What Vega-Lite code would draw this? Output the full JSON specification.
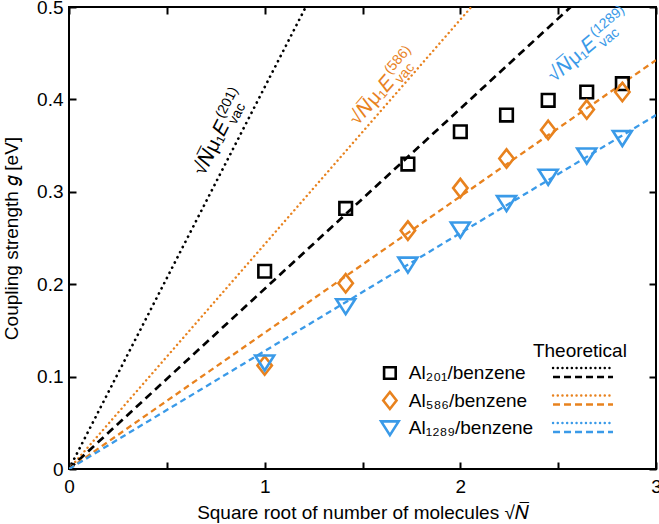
{
"$schema":"https://vega.github.io/schema/vega-lite/v6.json",
"width":587,"height":462,
"autosize":{"type":"none"},
"padding":{"left":69,"top":7,"right":3,"bottom":55},
"background":"white",
"config":{
 "font":"Liberation Sans",
 "view":{"stroke":"black","strokeWidth":2},
 "legend":{"disable":true},
 "axis":{"domain":false,"grid":false,"ticks":true,"tickColor":"#000000","tickOpacity":1,"tickWidth":2,"tickSize":7,"offset":-7,"zindex":1,"labelFont":"Liberation Sans","labelFontSize":19,"labelColor":"black","titleFont":"Liberation Sans","titleFontSize":19,"titleFontWeight":"normal","titleColor":"black","labelFlush":false,"labelOverlap":false}
},
"datasets":{
 "pts":[
  {"series":"Al201","x":1,"g":0.214},{"series":"Al201","x":1.414,"g":0.282},{"series":"Al201","x":1.732,"g":0.330},{"series":"Al201","x":2,"g":0.365},{"series":"Al201","x":2.236,"g":0.383},{"series":"Al201","x":2.449,"g":0.399},{"series":"Al201","x":2.646,"g":0.408},{"series":"Al201","x":2.828,"g":0.417},
  {"series":"Al586","x":1,"g":0.112},{"series":"Al586","x":1.414,"g":0.201},{"series":"Al586","x":1.732,"g":0.258},{"series":"Al586","x":2,"g":0.304},{"series":"Al586","x":2.236,"g":0.336},{"series":"Al586","x":2.449,"g":0.367},{"series":"Al586","x":2.646,"g":0.389},{"series":"Al586","x":2.828,"g":0.408},
  {"series":"Al1289","x":1,"g":0.115},{"series":"Al1289","x":1.414,"g":0.176},{"series":"Al1289","x":1.732,"g":0.221},{"series":"Al1289","x":2,"g":0.259},{"series":"Al1289","x":2.236,"g":0.2875},{"series":"Al1289","x":2.449,"g":0.316},{"series":"Al1289","x":2.646,"g":0.339},{"series":"Al1289","x":2.828,"g":0.358}
 ],
 "theory":[
  {"line":"bdot","x":0,"g":0},{"line":"bdot","x":1.21,"g":0.5},
  {"line":"odot","x":0,"g":0},{"line":"odot","x":2.056,"g":0.5},
  {"line":"bdash","x":0,"g":0},{"line":"bdash","x":2.564,"g":0.5},
  {"line":"odash","x":0,"g":0},{"line":"odash","x":3,"g":0.4425},
  {"line":"ldash","x":0,"g":0},{"line":"ldash","x":3,"g":0.383}
 ]
},
"resolve":{"axis":{"x":"independent","y":"independent"}},
"layer":[
 {
  "data":{"name":"theory"},
  "transform":[{"filter":"datum.line === 'bdot'"}],
  "mark":{"type":"line","strokeCap":"round","clip":true,"color":"#000000","strokeWidth":2.7,"strokeDash":[0.1,5.7]},
  "encoding":{
   "x":{"field":"x","type":"quantitative","scale":{"domain":[0,3],"nice":false,"zero":false},
        "axis":{"orient":"bottom","values":[0,0.5,1,1.5,2,2.5,3],"labelExpr":"datum.value % 1 === 0 ? format(datum.value,'d') : ''","labelPadding":8,"title":"Square root of number of molecules √𝑁̅","titlePadding":7}},
   "y":{"field":"g","type":"quantitative","scale":{"domain":[0,0.5],"nice":false,"zero":false},
        "axis":{"orient":"left","values":[0,0.1,0.2,0.3,0.4,0.5],"labelExpr":"datum.value === 0 ? '0' : format(datum.value,'.1f')","labelPadding":6,"title":"Coupling strength 𝑔 [eV]","titlePadding":15}}
  }
 },
 {
  "data":{"name":"theory"},
  "transform":[{"filter":"datum.line === 'odot'"}],
  "mark":{"type":"line","strokeCap":"round","clip":true,"color":"#e8821e","strokeWidth":2.4,"strokeDash":[0.1,4.6]},
  "encoding":{
   "x":{"field":"x","type":"quantitative","axis":{"orient":"top","values":[0,0.5,1,1.5,2,2.5,3],"labels":false,"title":null}},
   "y":{"field":"g","type":"quantitative","axis":{"orient":"right","values":[0,0.1,0.2,0.3,0.4,0.5],"labels":false,"title":null}}
  }
 },
 {
  "data":{"name":"theory"},
  "transform":[{"filter":"datum.line === 'bdash'"}],
  "mark":{"type":"line","strokeCap":"butt","clip":true,"color":"#000000","strokeWidth":2.7,"strokeDash":[8,5]},
  "encoding":{"x":{"field":"x","type":"quantitative","axis":null},"y":{"field":"g","type":"quantitative","axis":null}}
 },
 {
  "data":{"name":"theory"},
  "transform":[{"filter":"datum.line === 'odash'"}],
  "mark":{"type":"line","strokeCap":"butt","clip":true,"color":"#e8821e","strokeWidth":2.3,"strokeDash":[6,4]},
  "encoding":{"x":{"field":"x","type":"quantitative","axis":null},"y":{"field":"g","type":"quantitative","axis":null}}
 },
 {
  "data":{"name":"theory"},
  "transform":[{"filter":"datum.line === 'ldash'"}],
  "mark":{"type":"line","strokeCap":"butt","clip":true,"color":"#3a9ae8","strokeWidth":2.3,"strokeDash":[6,4]},
  "encoding":{"x":{"field":"x","type":"quantitative","axis":null},"y":{"field":"g","type":"quantitative","axis":null}}
 },
 {
  "data":{"name":"pts"},
  "mark":{"type":"point","filled":false,"strokeWidth":2.6,"size":400,"opacity":1},
  "encoding":{
   "x":{"field":"x","type":"quantitative","axis":null},
   "y":{"field":"g","type":"quantitative","axis":null},
   "color":{"field":"series","type":"nominal","scale":{"domain":["Al201","Al586","Al1289"],"range":["#000000","#e8821e","#3a9ae8"]}},
   "shape":{"field":"series","type":"nominal","scale":{"domain":["Al201","Al586","Al1289"],"range":["M-0.63,-0.63H0.63V0.63H-0.63Z","M0,-0.92L0.72,0L0,0.92L-0.72,0Z","M-0.95,-0.72H0.95L0,0.78Z"]}}
  }
 },
 {"data":{"values":[{"series":"Al201"}]},"mark":{"type":"point","filled":false,"strokeWidth":2.6,"size":340,"opacity":1},
  "encoding":{"x":{"datum":1.64,"type":"quantitative","axis":null},"y":{"datum":0.1039,"type":"quantitative","axis":null},"color":{"field":"series","type":"nominal"},"shape":{"field":"series","type":"nominal"}}},
 {"data":{"values":[{"series":"Al586"}]},"mark":{"type":"point","filled":false,"strokeWidth":2.6,"size":340,"opacity":1},
  "encoding":{"x":{"datum":1.64,"type":"quantitative","axis":null},"y":{"datum":0.0741,"type":"quantitative","axis":null},"color":{"field":"series","type":"nominal"},"shape":{"field":"series","type":"nominal"}}},
 {"data":{"values":[{"series":"Al1289"}]},"mark":{"type":"point","filled":false,"strokeWidth":2.6,"size":340,"opacity":1},
  "encoding":{"x":{"datum":1.64,"type":"quantitative","axis":null},"y":{"datum":0.0444,"type":"quantitative","axis":null},"color":{"field":"series","type":"nominal"},"shape":{"field":"series","type":"nominal"}}},
 {"data":{"values":[{}]},"mark":{"type":"text","align":"left","baseline":"middle","fontSize":19,"color":"black"},
  "encoding":{"x":{"datum":1.737,"type":"quantitative","axis":null},"y":{"datum":0.1039,"type":"quantitative","axis":null},"text":{"value":"Al₂₀₁/benzene"}}},
 {"data":{"values":[{}]},"mark":{"type":"text","align":"left","baseline":"middle","fontSize":19,"color":"black"},
  "encoding":{"x":{"datum":1.737,"type":"quantitative","axis":null},"y":{"datum":0.0741,"type":"quantitative","axis":null},"text":{"value":"Al₅₈₆/benzene"}}},
 {"data":{"values":[{}]},"mark":{"type":"text","align":"left","baseline":"middle","fontSize":19,"color":"black"},
  "encoding":{"x":{"datum":1.737,"type":"quantitative","axis":null},"y":{"datum":0.0444,"type":"quantitative","axis":null},"text":{"value":"Al₁₂₈₉/benzene"}}},
 {"data":{"values":[{}]},"mark":{"type":"point","filled":false,"shape":"M-1,0H1","size":3600,"strokeWidth":2.4,"strokeDash":[0.1,4.6],"strokeCap":"round","opacity":1,"color":"#000000"},
  "encoding":{"x":{"datum":2.627,"type":"quantitative","axis":null},"y":{"datum":0.1093,"type":"quantitative","axis":null}}},
 {"data":{"values":[{}]},"mark":{"type":"point","filled":false,"shape":"M-1,0H1","size":3600,"strokeWidth":2.5,"strokeDash":[7,4],"strokeCap":"butt","opacity":1,"color":"#000000"},
  "encoding":{"x":{"datum":2.627,"type":"quantitative","axis":null},"y":{"datum":0.0996,"type":"quantitative","axis":null}}},
 {"data":{"values":[{}]},"mark":{"type":"point","filled":false,"shape":"M-1,0H1","size":3600,"strokeWidth":2.4,"strokeDash":[0.1,4.6],"strokeCap":"round","opacity":1,"color":"#e8821e"},
  "encoding":{"x":{"datum":2.627,"type":"quantitative","axis":null},"y":{"datum":0.0795,"type":"quantitative","axis":null}}},
 {"data":{"values":[{}]},"mark":{"type":"point","filled":false,"shape":"M-1,0H1","size":3600,"strokeWidth":2.5,"strokeDash":[7,4],"strokeCap":"butt","opacity":1,"color":"#e8821e"},
  "encoding":{"x":{"datum":2.627,"type":"quantitative","axis":null},"y":{"datum":0.0698,"type":"quantitative","axis":null}}},
 {"data":{"values":[{}]},"mark":{"type":"point","filled":false,"shape":"M-1,0H1","size":3600,"strokeWidth":2.4,"strokeDash":[0.1,4.6],"strokeCap":"round","opacity":1,"color":"#3a9ae8"},
  "encoding":{"x":{"datum":2.627,"type":"quantitative","axis":null},"y":{"datum":0.0498,"type":"quantitative","axis":null}}},
 {"data":{"values":[{}]},"mark":{"type":"point","filled":false,"shape":"M-1,0H1","size":3600,"strokeWidth":2.5,"strokeDash":[7,4],"strokeCap":"butt","opacity":1,"color":"#3a9ae8"},
  "encoding":{"x":{"datum":2.627,"type":"quantitative","axis":null},"y":{"datum":0.0401,"type":"quantitative","axis":null}}},
 {
  "data":{"values":[{}]},
  "mark":{"type":"text","align":"center","baseline":"middle","fontSize":19,"color":"black"},
  "encoding":{"x":{"datum":2.611,"type":"quantitative","axis":null},"y":{"datum":0.1277,"type":"quantitative","axis":null},"text":{"value":"Theoretical"}}
 },
 {
  "data":{"values":[{}]},
  "mark":{"type":"text","align":"left","baseline":"alphabetic","fontSize":20,"angle":-63,"color":"black"},
  "encoding":{"x":{"datum":0.69,"type":"quantitative","axis":null},"y":{"datum":0.3165,"type":"quantitative","axis":null},"text":{"value":"√𝑁̅μ₁𝐸"}}
 },
 {
  "data":{"values":[{}]},
  "mark":{"type":"text","align":"left","baseline":"alphabetic","fontSize":14,"angle":-63,"dx":60,"dy":-9,"color":"black"},
  "encoding":{"x":{"datum":0.69,"type":"quantitative","axis":null},"y":{"datum":0.3165,"type":"quantitative","axis":null},"text":{"value":"(201)"}}
 },
 {
  "data":{"values":[{}]},
  "mark":{"type":"text","align":"left","baseline":"alphabetic","fontSize":14,"angle":-63,"dx":60,"dy":5,"color":"black"},
  "encoding":{"x":{"datum":0.69,"type":"quantitative","axis":null},"y":{"datum":0.3165,"type":"quantitative","axis":null},"text":{"value":"vac"}}
 },
 {
  "data":{"values":[{}]},
  "mark":{"type":"text","align":"left","baseline":"alphabetic","fontSize":20,"angle":-49,"color":"#e8821e"},
  "encoding":{"x":{"datum":1.475,"type":"quantitative","axis":null},"y":{"datum":0.371,"type":"quantitative","axis":null},"text":{"value":"√𝑁̅μ₁𝐸"}}
 },
 {
  "data":{"values":[{}]},
  "mark":{"type":"text","align":"left","baseline":"alphabetic","fontSize":14,"angle":-49,"dx":60,"dy":-9,"color":"#e8821e"},
  "encoding":{"x":{"datum":1.475,"type":"quantitative","axis":null},"y":{"datum":0.371,"type":"quantitative","axis":null},"text":{"value":"(586)"}}
 },
 {
  "data":{"values":[{}]},
  "mark":{"type":"text","align":"left","baseline":"alphabetic","fontSize":14,"angle":-49,"dx":60,"dy":5,"color":"#e8821e"},
  "encoding":{"x":{"datum":1.475,"type":"quantitative","axis":null},"y":{"datum":0.371,"type":"quantitative","axis":null},"text":{"value":"vac"}}
 },
 {
  "data":{"values":[{}]},
  "mark":{"type":"text","align":"left","baseline":"alphabetic","fontSize":20,"angle":-40,"color":"#3a9ae8"},
  "encoding":{"x":{"datum":2.48,"type":"quantitative","axis":null},"y":{"datum":0.418,"type":"quantitative","axis":null},"text":{"value":"√𝑁̅μ₁𝐸"}}
 },
 {
  "data":{"values":[{}]},
  "mark":{"type":"text","align":"left","baseline":"alphabetic","fontSize":14,"angle":-40,"dx":60,"dy":-9,"color":"#3a9ae8"},
  "encoding":{"x":{"datum":2.48,"type":"quantitative","axis":null},"y":{"datum":0.418,"type":"quantitative","axis":null},"text":{"value":"(1289)"}}
 },
 {
  "data":{"values":[{}]},
  "mark":{"type":"text","align":"left","baseline":"alphabetic","fontSize":14,"angle":-40,"dx":60,"dy":5,"color":"#3a9ae8"},
  "encoding":{"x":{"datum":2.48,"type":"quantitative","axis":null},"y":{"datum":0.418,"type":"quantitative","axis":null},"text":{"value":"vac"}}
 }
]
}
